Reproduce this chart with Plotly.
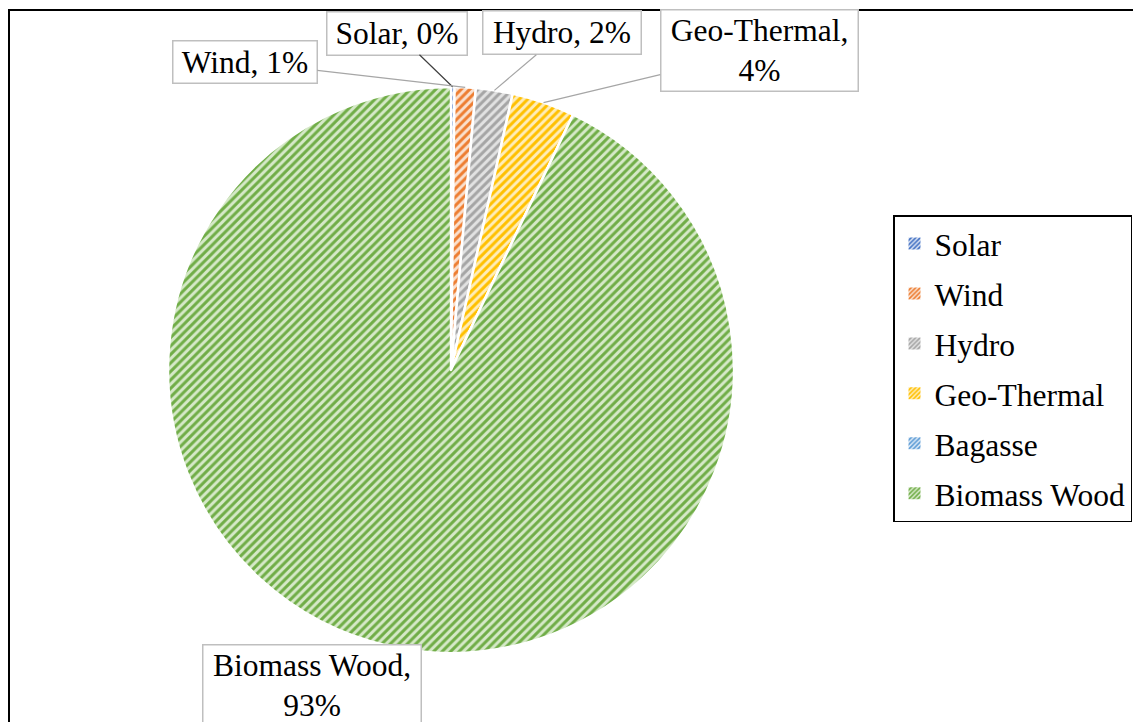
import math
import plotly.graph_objects as go

# ---- data ----
labels = ["Solar", "Wind", "Hydro", "Geo-Thermal", "Bagasse", "Biomass Wood"]
values = [0.2, 1.2, 2.1, 3.6, 0.0, 92.9]
fg_colors = ["#4472C4", "#ED7D31", "#A5A5A5", "#FFC000", "#5B9BD5", "#70AD47"]
bg_colors = ["#D6E0F2", "#FAE0CE", "#E2E2E2", "#FFEDB8", "#DAE8F6", "#D6E9C8"]

OFF = 8                      # page body margin of the html page
W, H = 1141 - OFF, 722 - OFF  # figure size
FONT = "Liberation Serif, Times New Roman, serif"
FSIZE = 31.5


def fx(px):  # page pixel x -> paper fraction
    return (px - OFF) / W


def fy(py):  # page pixel y -> paper fraction
    return 1 - (py - OFF) / H


CX, CY, R = 451, 370, 283  # pie center / radius in page pixels

# label box: center x, center y, width, height (page pixels), leader colour
label_pos = {
    "Solar": (397, 33, 141, 44, "#404040"),
    "Wind": (245, 62, 145, 43, "#A6A6A6"),
    "Hydro": (562, 33, 159, 44, "#A6A6A6"),
    "Geo-Thermal": (759, 51, 198, 82, "#A6A6A6"),
    "Biomass Wood": (312, 685, 219, 82, None),
}
two_line = {"Geo-Thermal", "Biomass Wood"}

fig = go.Figure()
fig.add_trace(go.Pie(
    labels=labels,
    values=values,
    sort=False,
    direction="clockwise",
    rotation=0,
    textinfo="none",
    hoverinfo="label+percent",
    showlegend=False,
    marker=dict(
        colors=bg_colors,
        line=dict(color="white", width=2.5),
        pattern=dict(shape="/", fgcolor=fg_colors, bgcolor=bg_colors,
                     size=6, solidity=0.5, fillmode="replace"),
    ),
    domain=dict(x=[fx(CX - R), fx(CX + R)], y=[fy(CY + R), fy(CY - R)]),
))

# legend entries (one group per category, so the spacing can be set)
for lab, fg, bg in zip(labels, fg_colors, bg_colors):
    fig.add_trace(go.Bar(
        x=[None], y=[None], name=lab, legendgroup=lab, showlegend=True,
        hoverinfo="skip",
        marker=dict(color=bg, line=dict(width=0),
                    pattern=dict(shape="/", fgcolor=fg, bgcolor=bg,
                                 size=4, solidity=0.5, fillmode="replace")),
    ))

total = sum(values)
cum = 0.0
annotations = []
for lab, v in zip(labels, values):
    start = cum
    cum += v
    if lab not in label_pos:
        continue
    mid = (start + v / 2) / total * 2 * math.pi
    px = CX + R * math.sin(mid)
    py = CY - R * math.cos(mid)
    bx, by, bw, bh, lcol = label_pos[lab]
    sep = "<br>" if lab in two_line else " "
    text = f"{lab},{sep}{round(v / total * 100)}%"
    common = dict(
        xref="paper", yref="paper", text=text,
        font=dict(family=FONT, size=FSIZE, color="black"),
        bgcolor="white", bordercolor="#BFBFBF", borderwidth=1.5,
        borderpad=0, align="center", valign="middle",
        width=bw - 2, height=bh - 2,
    )
    if lcol:
        annotations.append(dict(
            x=fx(px), y=fy(py), ax=bx - px, ay=by - py,
            axref="pixel", ayref="pixel",
            showarrow=True, arrowhead=0, arrowwidth=1.2, arrowcolor=lcol,
            **common,
        ))
    else:
        annotations.append(dict(
            x=fx(bx), y=fy(by), showarrow=False,
            xanchor="center", yanchor="middle", **common,
        ))

fig.update_layout(
    width=W, height=H,
    margin=dict(l=0, r=0, t=0, b=0),
    paper_bgcolor="white",
    plot_bgcolor="white",
    showlegend=True,
    xaxis=dict(visible=False),
    yaxis=dict(visible=False),
    legend=dict(
        x=fx(893), y=fy(215), xanchor="left", yanchor="top",
        font=dict(family=FONT, size=FSIZE, color="black"),
        bordercolor="black", borderwidth=1.5, bgcolor="white",
        traceorder="grouped", tracegroupgap=6,
    ),
    annotations=annotations,
    shapes=[
        dict(type="line", xref="paper", yref="paper",
             x0=0, x1=1, y0=fy(10), y1=fy(10),
             line=dict(color="black", width=2)),
        dict(type="line", xref="paper", yref="paper",
             x0=fx(9), x1=fx(9), y0=fy(10), y1=0,
             line=dict(color="black", width=2)),
    ],
)

fig.write_html("out.html")
